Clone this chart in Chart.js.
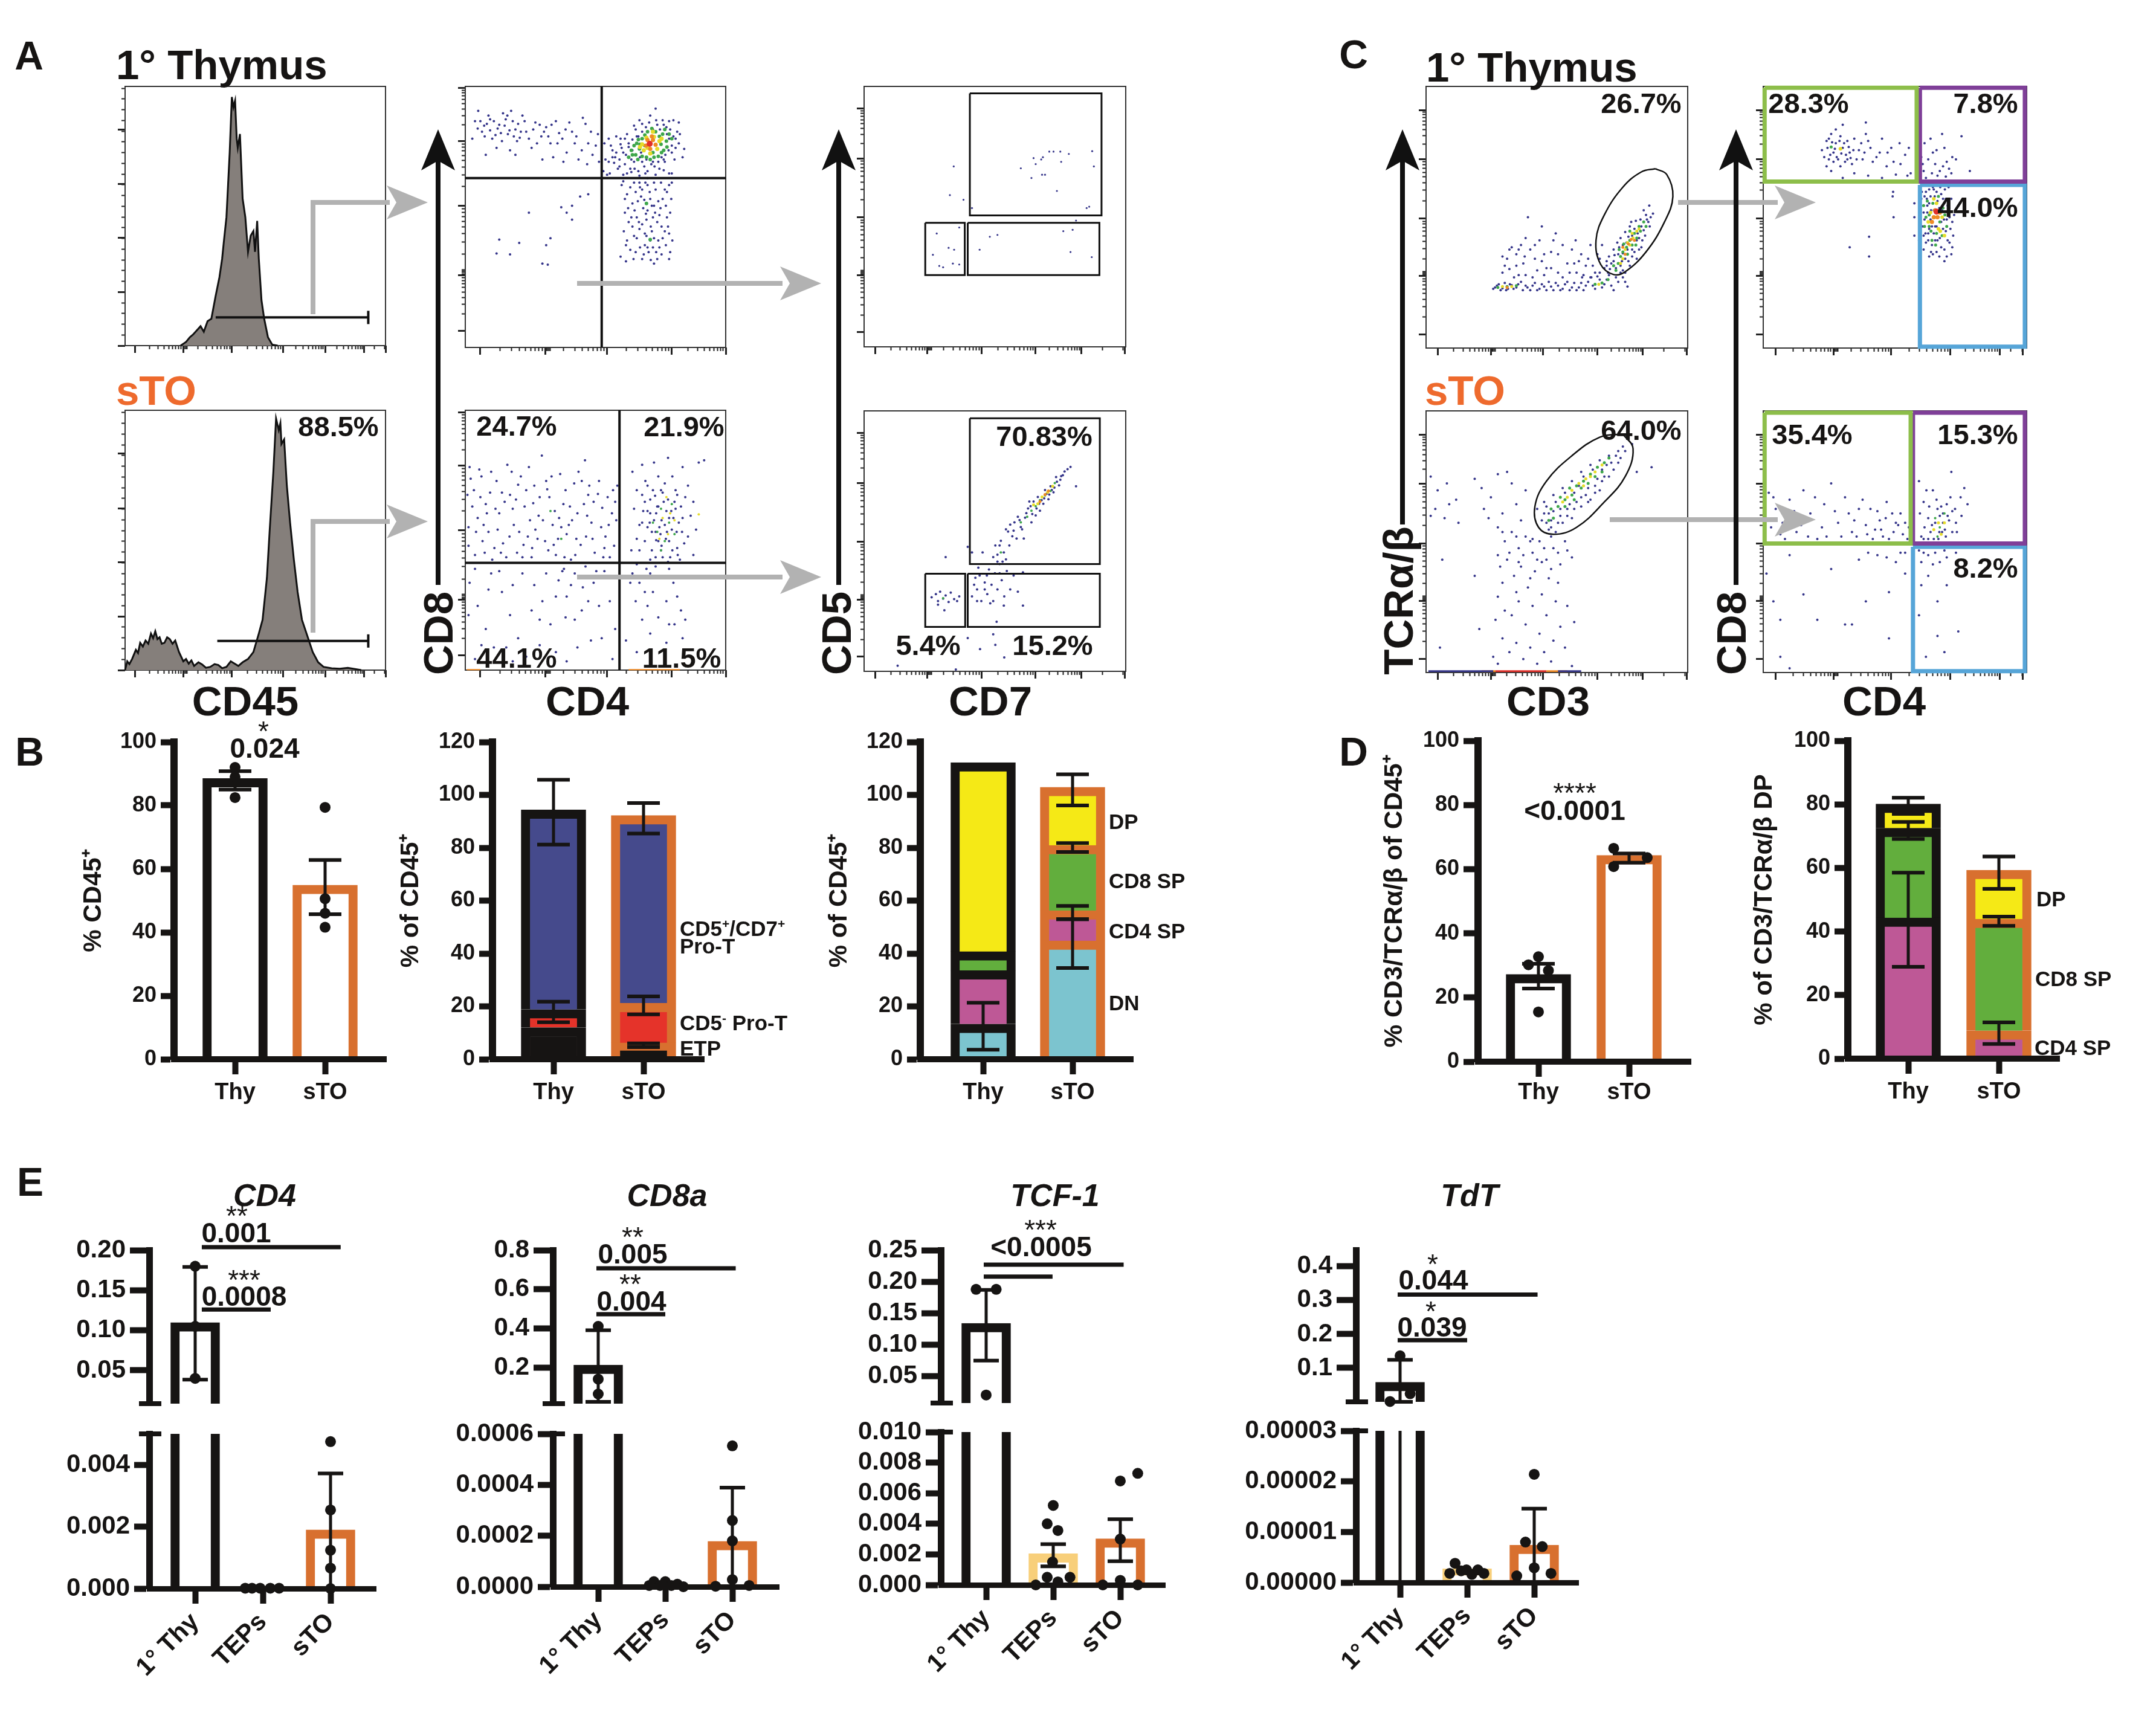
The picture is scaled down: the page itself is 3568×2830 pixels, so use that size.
<!DOCTYPE html>
<html><head><meta charset="utf-8">
<script src="https://cdn.jsdelivr.net/npm/chart.js@4"></script>
<style>
html,body{margin:0;padding:0;background:#fff;width:3568px;height:2830px;overflow:hidden}
#page{position:relative;width:3568px;height:2830px}
canvas{position:absolute}
.t{position:absolute;white-space:nowrap;font-family:"Liberation Sans",Arial,sans-serif;font-weight:bold;color:#161413;line-height:1}
sup{font-size:.6em;line-height:0}
svg{position:absolute;left:0;top:0;pointer-events:none}
</style></head><body><div id="page"></div>
<script>
// ===== colours =====
const INK='#161413',ORANGE='#D8702F',TEPCOL='#F8CF7A',BLUE='#454A8C',RED='#E5332A',YEL='#F5E916',GRN='#62AE3D',MAG='#BE5896',CYA='#7CC4CF';
const NAVY='#35358a',DG='#3da64a',DY='#e6dc2a',DO='#f08a24',DR='#e2302a';

// ===== panel B =====
const catsTS=['Thy','sTO'];
const b1Values=[88.5,54.9];
const b1Err=[[85,90.8],[45.7,62.8]];
const b1ThyDots=[92,89,82.5];
const b1StoDots=[79.4,50.6,46,41.6];
const b2Ticks=[0,20,40,60,80,100,120];
const b2ETP=[12,6.2],b2CD5neg=[6.8,15],b2ProT=[75.5,71];
const b2ThyErr=[[81.2,105.7],[14,21.8]];
const b2StoErr=[[85.4,96.9],[17,23.8],[4.6,6]];
const b3DN=[13.3,44.8],b3CD4=[20.2,11.4],b3CD8=[7.2,24.7],b3DP=[71.5,22];
const b3ThyErr=[[3.6,21.4]];
const b3StoErr=[[96,107.8],[78.4,81.8],[53,58],[34.5,53]];
// ===== panel D =====
const d1Values=[27.2,64.3];
const d1Err=[[22.8,30.5],[62,64.9]];
const d1ThyDots=[[1,32.7],[0.89,30.2],[1.11,28.4],[1,15.5]];
const d1StoDots=[[1.83,66.5],[2.2,63.6],[1.83,60.8]];
const d2CD4=[44.3,8.8],d2CD8=[28.2,35.1],d2DP=[7.6,15.4];
const d2ThyErr=[[77,82.1],[69.1,74.5],[28.9,58.5]];
const d2StoErr=[[53.4,63.6],[41.8,44.7],[4.6,11.4]];
// ===== panel E =====
const catsE=['1° Thy','TEPs','sTO'];
const cd4Hi=[0.1097],cd4Lo=[0.11,0.00001,0.0019];
const cd4HiTicks=[0.05,0.10,0.15,0.20],cd4HiLabels=['0.05','0.10','0.15','0.20'];
const cd4LoTicks=[0,0.002,0.004],cd4LoLabels=['0.000','0.002','0.004'];
const cd4HiDots=[[1,0.18],[1,0.105],[1,0.04]];
const cd4HiErr=[[0.0385,0.179]];
const cd4LoDots=[[1.74,0.00001],[1.84,0.00001],[1.96,0.00001],[2.11,0.00001],[2.24,0.00001],[3,0.00475],[3,0.00254],[3,0.00124],[3,0.00066],[3,0]];
const cd4LoErr=[[3,0,0.00372]];
const cd4Sig=[[1.098,3.15,0.2038],[1.098,2.116,0.126]];
const cd8Hi=[0.212],cd8Lo=[0.212,0.00001,0.000178];
const cd8HiTicks=[0.2,0.4,0.6,0.8],cd8HiLabels=['0.2','0.4','0.6','0.8'];
const cd8LoTicks=[0,0.0002,0.0004,0.0006],cd8LoLabels=['0.0000','0.0002','0.0004','0.0006'];
const cd8HiDots=[[1,0.41],[1,0.14],[1,0.064]];
const cd8HiErr=[[0.024,0.39]];
const cd8LoDots=[[1.76,0.000005],[1.83,0.00002],[1.92,0.000005],[2,0.00002],[2.09,0.000005],[2.18,0.00001],[2.27,0],[3,0.000553],[3,0.00026],[3,0.00018],[3,0.000028],[2.75,0.000002],[3.25,0.000005]];
const cd8LoErr=[[3,0,0.000389]];
const cd8Sig=[[0.973,3.05,0.707],[0.973,2.0,0.472]];
const tcfHi=[0.134],tcfLo=[0.134,0.00204,0.00302];
const tcfHiTicks=[0.05,0.10,0.15,0.20,0.25],tcfHiLabels=['0.05','0.10','0.15','0.20','0.25'];
const tcfLoTicks=[0,0.002,0.004,0.006,0.008,0.010],tcfLoLabels=['0.000','0.002','0.004','0.006','0.008','0.010'];
const tcfHiDots=[[0.85,0.188],[1.15,0.188],[1,0.0206]];
const tcfHiErr=[[0.075,0.187]];
const tcfLoDots=[[2,0.0052],[1.91,0.004],[2.07,0.00356],[1.99,0.0015],[1.91,0.0005],[2.25,0.0005],[1.74,0],[2.07,0.0002],[3,0.0068],[3.26,0.0073],[3,0.003],[2.74,0],[3,0.0003],[3.26,0]];
const tcfLoErr=[[2,0.00122,0.00267],[3,0.00155,0.0043]];
const tcfSig=[[0.964,3.05,0.227],[0.964,1.99,0.208]];
const tdtHi=[0.058],tdtLo=[0.058,0.0000027,0.0000074];
const tdtHiTicks=[0.1,0.2,0.3,0.4],tdtHiLabels=['0.1','0.2','0.3','0.4'];
const tdtLoTicks=[0,0.00001,0.00002,0.00003],tdtLoLabels=['0.00000','0.00001','0.00002','0.00003'];
const tdtHiDots=[[1,0.136],[1.15,0.024],[0.85,0.001]];
const tdtHiErr=[[0,0.124]];
const tdtLoDots=[[1.74,0.0000018],[1.82,0.0000038],[1.91,0.0000023],[1.99,0.0000025],[2.07,0.0000016],[2.16,0.0000025],[2.25,0.0000018],[3,0.0000214],[2.87,0.000008],[3.12,0.0000071],[3,0.0000029],[2.74,0.0000013],[3.25,0.0000018]];
const tdtLoErr=[[1,0,0.124],[3,0,0.0000146]];
const tdtSig=[[0.964,3.05,0.317],[0.964,2.0,0.182]];

// ===== flow data (channels) =====
const histThy=[335,748,345,740,352,730,358,724,365,715,372,706,378,718,385,695,392,690,400,640,407,600,412,560,415,525,420,470,423,400,426,330,430,210,433,232,436,218,439,300,441,320,445,290,450,430,455,470,460,545,465,510,470,500,473,545,477,478,480,560,485,650,490,690,497,730,505,746,515,748];
const histSto=[232,1449,236,1430,240,1436,245,1425,252,1405,256,1412,260,1390,265,1398,270,1385,275,1392,280,1370,284,1380,288,1365,292,1382,296,1378,300,1392,305,1390,310,1378,315,1382,320,1392,325,1385,332,1410,340,1430,345,1425,350,1435,355,1428,360,1440,368,1432,375,1437,382,1444,390,1442,398,1436,405,1438,412,1445,420,1442,428,1430,435,1435,442,1440,450,1432,460,1425,470,1410,480,1370,487,1340,495,1250,500,1150,507,1020,512,905,517,930,520,915,522,960,527,950,532,1050,538,1130,545,1210,552,1280,560,1340,570,1375,580,1410,590,1432,600,1442,615,1445,630,1446,645,1444,660,1447,670,1449];
const gateHistThy=[400,687,683,687],gateHistSto=[403,1386,683,1386];
const aTopNavy=[880,262,893,285,905,250,912,300,925,270,932,245,941,290,950,262,958,305,968,250,975,285,985,320,992,265,1003,295,1012,275,1020,310,1030,262,1042,300,1050,330,1060,285,1072,345,1080,255,1090,310,1098,335,1108,290,1110,350,900,335,945,325,1025,340,1065,310,897,272,915,262,928,288,937,258,955,280,963,298,947,240,908,282,886,240,1000,270,1016,295,1036,288,1085,268,
885,278,890,262,898,295,902,268,908,258,918,292,922,278,930,305,935,272,940,250,944,282,952,295,960,268,965,285,972,262,980,300,988,280,995,310,1008,285,1022,270,1033,310,1048,280,1055,265,1068,295,1078,325,1095,285,1104,315,875,300,920,320,955,335,1005,345,1044,350,1088,355,
1120,310,1128,350,1135,325,1142,295,1148,360,1155,330,1162,375,1158,300,1170,345,1178,280,1176,365,1185,260,1190,350,1196,375,1215,235,1222,365,1232,350,1240,375,1245,330,1252,300,1258,265,1265,340,1248,260,1235,275,1125,378,1140,340,1150,312,1165,318,1172,302,1183,295,1188,330,1198,345,1210,350,1218,270,1228,260,1240,300,1250,345,1230,345,1128,300,
1135,340,1142,330,1148,345,1152,320,1158,355,1160,335,1165,310,1168,365,1172,325,1175,350,1180,295,1183,370,1186,340,1190,285,1194,360,1197,275,1200,370,1203,265,1207,355,1210,280,1213,360,1216,260,1220,350,1223,280,1226,340,1230,270,1233,335,1236,290,1239,325,1242,280,1245,315,1248,295,1252,320,1255,285,1258,310,1145,365,1155,378,1170,372,1185,380,1200,385,1215,378,1230,368,1245,375,1138,352,1132,315,1150,300,1162,290,1175,272,1190,268,1205,250,1240,262,1260,290,1268,322,1122,345,1118,370,1130,375,
1155,392,1162,420,1150,555,1158,460,1168,405,1172,440,1165,480,1175,510,1160,530,1178,545,1185,395,1188,425,1180,470,1192,450,1185,495,1195,530,1190,560,1200,400,1205,430,1198,475,1208,500,1202,545,1212,570,1215,410,1212,445,1218,480,1220,520,1210,535,1225,395,1228,430,1222,465,1232,500,1226,550,1240,560,1236,415,1242,460,1245,395,1238,490,1246,520,1200,455,1210,470,1195,505,1205,520,
1152,400,1158,430,1164,450,1170,470,1156,500,1162,520,1168,540,1160,565,1175,395,1178,415,1182,435,1176,455,1184,480,1172,490,1180,515,1186,535,1174,560,1190,410,1194,432,1197,462,1190,485,1198,510,1200,535,1193,550,1204,415,1208,445,1214,460,1206,490,1212,515,1216,545,1206,562,1220,435,1224,450,1226,490,1228,515,1222,535,1218,560,1232,410,1234,445,1236,470,1240,505,1234,530,1242,545,1244,430,1186,405,1196,395,1212,395,1240,400,
980,460,1050,460,1060,445,1090,420,925,518,962,525,1020,515,1012,530,1005,570,1015,572,945,550,920,548,1075,425,1060,475,1040,448];
const aTopGreen=[1170,325,1180,310,1190,300,1200,285,1215,285,1228,290,1235,305,1230,325,1220,338,1205,345,1190,338,1178,335,1165,340,1240,290,1185,322,1210,330,1225,312,1195,315,1205,518,1198,440,1175,315,1183,302,1195,292,1208,278,1222,295,1236,318,1226,330,1212,340,1198,340,1182,345,1172,335,1186,312,1232,280,1245,300];
const aTopYellow=[1190,312,1198,298,1212,296,1222,305,1218,322,1205,332,1193,325,1186,318,1200,320,1226,300,1210,285];
const aTopOrange=[1200,303,1210,303,1215,313,1205,322,1197,315,1208,295];
const aTopRed=[1204,311];
const aBotNavy=[870,1010,878,1060,885,1120,868,1180,892,1030,900,1090,905,1150,912,1210,880,1200,920,1040,925,1110,932,1175,940,1005,945,1070,952,1135,958,1195,965,1030,972,1095,978,1160,985,1205,990,1050,998,1115,1004,985,1010,1170,1018,1075,1024,1135,1030,1200,1038,1025,1044,1090,1050,1155,1058,1210,1064,1045,1070,1110,1076,1178,1084,995,1090,1070,1096,1130,1102,1195,1110,1040,1116,1098,1122,1160,1130,1205,1136,1060,1142,1125,875,1095,888,1015,896,1135,908,1065,916,1185,935,1085,948,1020,962,1150,975,1060,982,1125,1000,1075,1012,1040,1028,1105,1034,1165,1048,1060,1060,1125,1072,1020,1086,1160,1100,1085,1118,1205,1128,1135,1140,1085,868,1140,894,1170,918,1100,944,1160,968,1205,992,1145,1016,1190,1040,1140,1066,1200,1092,1050,1114,1140,1138,1180,
872,1035,882,1150,890,1075,898,1195,910,1020,922,1145,930,1065,938,1205,950,1100,960,1048,970,1178,980,1010,988,1088,996,1165,1006,1125,1014,1058,1026,1178,1036,1120,1046,1205,1056,1095,1068,1165,1078,1040,1088,1115,1098,1165,1108,1068,1120,1185,1134,1110,1144,1050,866,1070,902,1110,928,1195,956,1080,986,1185,1022,1030,1054,1135,1082,1090,1126,1075,
870,1260,885,1310,900,1360,915,1400,930,1280,945,1330,960,1380,975,1420,990,1265,1005,1300,1020,1350,1035,1255,1050,1290,1065,1340,1080,1270,1095,1385,1110,1310,1125,1250,1140,1360,880,1230,905,1275,925,1235,950,1265,985,1320,1012,1240,1042,1235,1058,1265,1072,1250,1090,1300,1105,1235,1130,1300,868,1330,892,1395,938,1400,1000,1395,1030,1410,1070,1400,1115,1380,1135,1425,880,1425,950,1430,1050,1430,910,1240,968,1240,1030,1290,1045,1230,1065,1240,1085,1225,1100,1260,1120,1235,1078,1320,1048,1335,1000,1340,
1172,1020,1180,1060,1190,1005,1196,1040,1205,1080,1212,1000,1220,1030,1228,1065,1238,990,1246,1030,1255,1070,1265,1010,1275,1050,1285,1085,1295,1000,1305,995,1175,1100,1185,1135,1195,1170,1205,1110,1215,1150,1225,1190,1235,1105,1245,1145,1255,1185,1265,1120,1275,1160,1285,1200,1170,1190,1180,1220,1192,1105,1200,1140,1208,1190,1218,1095,1226,1125,1234,1165,1242,1205,1250,1085,1258,1130,1268,1175,1190,1070,1210,1060,1232,1045,1252,1100,1180,1165,1220,1170,1240,1120,1222,1140,1212,1125,1228,1205,
1200,1105,1204,1130,1208,1150,1214,1072,1216,1110,1216,1168,1220,1095,1224,1155,1226,1180,1230,1085,1232,1135,1236,1150,1238,1080,1240,1170,1244,1105,1246,1190,1248,1120,1252,1060,1254,1150,1256,1200,1262,1095,1264,1150,1270,1075,1190,1130,1195,1085,1185,1190,1205,1210,1215,1205,1225,1060,1280,1115,1290,1145,1200,1050,1238,1215,1260,1210,
1172,1240,1185,1260,1198,1230,1210,1280,1222,1245,1235,1300,1248,1260,1262,1320,1178,1300,1190,1340,1205,1370,1220,1335,1235,1390,1250,1350,1265,1380,1195,1280,1240,1350,1160,1385,1180,1410,1205,1240,1215,1225,1230,1250,1240,1230,1255,1290,1270,1340,1168,1260,1200,1310];
const aBotGreen=[1225,1100,1240,1130,1218,1150,1232,1170,1225,1190,1245,1090,1250,1155,1210,1130,1040,1165,1020,1105];
const aBotYellow=[1235,1075,1228,1120,1242,1110,1222,1165,1238,1155,1250,1125,1295,1112];
const aStripOrange=[865,1448,890,1448,1165,1448,1260,1448];
const cd7TopNavy=[397,360,388,422,420,432,440,450,555,364,585,342,590,355,603,345,607,340,580,385,605,378,612,378,622,328,632,328,648,328,668,333,650,350,640,413,723,327,727,360,710,450,716,447,357,505,410,492,348,551,385,536,398,540,363,575,372,578,395,570,410,572,458,540,482,512,500,508,655,500,677,497,672,545,722,556,685,477];
const cd7BotNavy=[440,1290,445,1265,452,1275,458,1245,462,1300,470,1260,476,1285,480,1232,486,1265,490,1300,494,1240,500,1275,505,1220,510,1255,516,1290,522,1235,530,1275,538,1245,548,1280,560,1238,560,1310,515,1310,498,1345,490,1372,495,1395,516,1422,402,1448,265,1440,459,1404,430,1380,500,1200,495,1180,508,1170,515,1195,525,1150,528,1180,520,1145,535,1160,540,1130,545,1165,552,1125,558,1145,565,1120,572,1100,562,1165,580,1130,575,1085,590,1115,585,1085,600,1105,595,1075,608,1090,612,1060,620,1080,625,1052,632,1065,638,1032,645,1050,650,1030,658,1020,665,1015,672,1010,685,1052,440,1195,465,1195,430,1183,378,1205,
530,1135,538,1148,548,1118,555,1140,568,1110,578,1095,582,1112,592,1100,598,1090,604,1082,610,1078,616,1068,622,1070,628,1060,634,1055,640,1042,648,1038,654,1028,505,1180,500,1215,490,1205,512,1215,520,1210,452,1300,448,1250,470,1275,483,1305,505,1240,455,1228,475,1245,
345,1292,355,1285,360,1300,365,1280,372,1295,378,1288,385,1302,390,1282,398,1296,405,1300,410,1290,375,1320,360,1308];
const cd7BotGreen=[372,1294,508,1195,555,1130,590,1095,600,1082,612,1072,625,1062,635,1045,580,1105,570,1118];
const cd7BotYellow=[585,1092,595,1090,605,1075,618,1065,630,1052];
const cd7BotOrange=[612,1070,620,1062,600,1085];
const cd3TopNavy=[420,625,428,618,436,628,445,612,452,625,460,617,470,622,480,610,490,618,500,628,510,612,520,625,530,620,540,610,550,628,560,618,570,625,580,610,590,622,600,628,610,612,620,618,630,600,640,625,650,605,660,615,670,595,680,628,690,610,700,600,710,620,
424,622,432,615,440,624,448,628,456,615,464,625,474,615,484,628,494,622,505,618,515,628,525,615,535,628,545,620,555,612,565,628,575,615,585,628,595,612,605,622,615,628,625,610,635,618,645,598,655,622,665,605,675,618,685,600,695,590,705,610,
440,590,450,560,460,535,470,575,480,530,490,595,495,470,510,560,525,490,520,520,535,580,545,545,555,505,560,590,570,530,580,570,590,540,600,590,610,550,620,575,630,530,640,590,650,560,655,530,445,575,465,600,485,570,505,600,530,550,560,550,585,590,440,555,470,550,625,560,660,580,
455,582,475,540,488,555,500,540,515,585,530,595,545,580,570,600,595,570,605,565,615,595,635,575,645,550,455,540,475,595,490,515,510,530,525,565,550,520,598,520,612,600,632,600,650,590,665,565,
690,570,700,585,680,565,690,550,705,560,715,575,700,530,710,540,695,515,720,510,730,520,715,490,740,490,750,465,745,455,755,480,760,470,735,515,725,545,670,555,680,540,665,575,740,535,765,462,705,590,730,560,
685,580,695,575,672,582,682,552,692,535,700,548,708,525,712,512,720,540,725,495,732,505,738,475,745,498,752,475,758,490,748,510,735,540,720,555,712,565,698,565,675,570,668,590,688,525,705,502,718,480,728,478,742,520,757,445];
const cd3TopGreen=[430,622,450,620,470,618,640,615,655,612,668,605,690,570,700,545,708,535,715,520,725,505,735,490,745,480,695,555,720,530,730,515,710,550,685,585,692,540,702,528,715,500,728,530,738,500,750,490,680,575];
const cd3TopYellow=[440,620,460,620,705,540,715,530,722,515,700,560,730,500,648,615,695,570,710,525,720,505,735,495];
const cd3TopOrange=[450,622,712,528,718,518,705,550,700,535,725,520];
const cd3BotNavy=[285,1030,300,1060,320,1045,295,1100,315,1120,340,1080,285,1115,325,1090,380,1035,395,1055,400,1100,415,1075,430,1025,450,1020,440,1110,460,1045,470,1090,480,1125,490,1060,410,1120,345,1130,
530,1085,540,1110,550,1070,560,1130,570,1055,580,1100,590,1040,600,1085,610,1020,620,1070,630,1005,640,1050,650,995,660,1030,670,985,680,1015,690,975,700,965,525,1125,540,1145,555,1150,570,1130,590,1120,610,1095,630,1080,515,1100,650,1060,720,960,762,1010,730,1020,
535,1095,545,1125,555,1085,565,1115,575,1065,585,1090,595,1065,605,1050,615,1030,625,1055,635,1015,645,1035,655,1015,665,1005,675,1000,685,985,695,990,535,1130,550,1105,565,1100,580,1115,595,1100,610,1075,625,1085,640,1065,655,1040,670,1030,545,1140,530,1110,690,1000,705,975,
430,1140,445,1170,460,1150,475,1185,490,1160,505,1195,520,1170,535,1210,550,1185,565,1220,580,1190,590,1205,450,1210,465,1245,480,1225,495,1270,510,1235,525,1285,540,1250,555,1300,430,1200,440,1260,430,1290,445,1320,425,1340,460,1330,475,1300,490,1350,505,1310,520,1370,535,1330,550,1385,565,1355,440,1380,455,1410,470,1390,485,1425,500,1400,515,1435,530,1410,545,1430,420,1420,430,1435,575,1400,590,1440,580,1310,595,1345,310,1210,380,1245,305,1400,390,1360,
440,1150,455,1195,470,1160,485,1200,500,1170,515,1210,530,1185,545,1160,560,1195,575,1170,435,1225,475,1215,505,1165,525,1215,545,1230,560,1260,500,1250,470,1280];
const cd3BotGreen=[545,1100,560,1095,575,1080,590,1070,600,1050,615,1040,630,1025,645,1010,660,1000,670,990,565,1075,585,1055,610,1055,625,1045,550,1120,540,1125,575,1095,595,1080,640,1030,655,1020];
const cd3BotYellow=[570,1085,590,1060,605,1045,620,1035,640,1020,655,1005,580,1075,615,1050,630,1030];
const cd3StripNavy=[280,1451,420,1451,560,1451,610,1451];
const cd3StripOrange=[395,1451,425,1451,535,1451,580,1451];
const cd3StripRed=[425,1451,535,1451];
const cd4cTopNavy=[1130,325,1140,305,1145,345,1150,290,1155,330,1160,310,1165,345,1170,295,1175,320,1180,350,1185,305,1190,330,1195,355,1200,300,1210,325,1218,345,1225,290,1235,320,1248,340,1260,300,1272,330,1285,350,1298,310,1310,335,1322,375,1150,370,1175,385,1200,375,1230,380,1260,385,1290,378,1315,380,1175,270,1225,265,1140,360,1160,280,1240,350,1270,360,
1142,320,1148,335,1152,308,1158,322,1162,340,1168,305,1172,332,1178,310,1182,335,1188,318,1192,342,1198,325,1205,345,1215,310,1222,330,1145,300,1135,340,1155,350,1170,360,1185,345,1230,305,1255,330,1280,320,1300,355,1318,320,
1345,340,1350,370,1355,385,1365,300,1370,330,1375,355,1380,380,1390,290,1395,320,1400,350,1410,375,1420,345,1432,295,1405,365,1385,370,1352,310,1450,370,1342,385,1360,345,1368,375,1378,325,1392,360,1398,382,1412,340,1348,355,
1345,430,1350,460,1348,490,1355,415,1358,445,1360,505,1365,425,1365,475,1368,530,1372,410,1372,455,1375,490,1378,545,1380,435,1382,470,1385,515,1388,420,1390,455,1392,495,1395,540,1398,430,1400,475,1402,520,1405,450,1408,495,1410,550,1350,540,1375,520,1362,555,1395,565,1412,535,1416,465,1340,520,
1346,415,1352,425,1352,475,1354,505,1357,430,1358,460,1362,410,1362,440,1362,495,1366,455,1368,490,1370,405,1372,505,1374,425,1375,470,1378,415,1378,490,1380,520,1384,450,1386,405,1388,480,1388,535,1392,430,1394,475,1396,410,1398,500,1402,445,1404,405,1406,470,1406,525,1410,430,1412,480,1414,510,1350,510,1355,525,1360,520,1366,545,1370,550,1384,555,1400,555,
1283,425,1284,415,1330,470,1330,510,1285,470,1190,535,1232,512,1232,555,1330,440];
const cd4cTopGreen=[1355,470,1362,490,1370,440,1378,505,1385,480,1392,450,1400,490,1368,520,1150,318,1350,445,1358,435,1366,500,1374,455,1382,425,1390,510,1396,465,1404,440,1362,465,1376,530,1352,490];
const cd4cTopYellow=[1365,460,1382,495,1390,470,1372,430,1395,510,1360,480,1378,440,1386,500,1170,322];
const cd4cTopOrange=[1375,455,1380,470,1368,480,1385,460,1372,470];
const cd4cTopRed=[1378,458];
const cd4cBotNavy=[1015,1065,1030,1100,1045,1130,1060,1080,1075,1150,1090,1060,1105,1110,1120,1165,1135,1090,1150,1045,1165,1130,1180,1075,1195,1150,1210,1100,1225,1135,1240,1165,1255,1125,1270,1085,1285,1150,1300,1110,1315,1165,1020,1140,1050,1165,1100,1160,1140,1160,1200,1125,1235,1100,1245,1145,1262,1160,1290,1130,1310,1130,
1025,1075,1040,1155,1070,1105,1085,1135,1115,1075,1130,1140,1158,1105,1172,1160,1188,1110,1205,1160,1218,1080,1228,1155,1250,1105,1258,1145,1268,1120,1275,1165,1282,1110,1295,1135,1305,1155,1318,1140,
1340,1040,1350,1085,1360,1120,1370,1060,1380,1100,1390,1150,1400,1090,1410,1020,1420,1130,1430,1075,1445,1090,1345,1160,1365,1150,1375,1130,1385,1115,1392,1130,1398,1160,1405,1125,1412,1150,1418,1100,
1342,1110,1352,1140,1356,1060,1362,1095,1368,1135,1372,1165,1378,1080,1384,1150,1388,1095,1392,1110,1396,1145,1402,1115,1408,1075,1412,1105,1422,1150,1432,1115,1438,1055,1350,1165,1360,1165,1382,1165,
1010,1240,1025,1300,1040,1340,1060,1200,1090,1285,1120,1340,1150,1230,1180,1350,1210,1210,1225,1300,1250,1200,1275,1280,1290,1215,1310,1195,1310,1240,1275,1380,1040,1420,1060,1445,1195,1350,1350,1195,1360,1245,1370,1220,1380,1300,1395,1190,1400,1265,1340,1330,1355,1420,1380,1375,1395,1410,1345,1265,1420,1220,1425,1365,1230,1195,1270,1205,1300,1195,1340,1190,1345,1215,1360,1200,1375,1195,1385,1215,1400,1205,1420,1195];
const cd4cBotGreen=[1375,1120,1385,1140,1395,1110,1380,1160];
const cd4cBotYellow=[1382,1130,1395,1130,1372,1145,1388,1155];
// ===== gates =====
const quadTopV=[1115,187,1115,751],quadTopH=[862,385,1345,385];
const quadBotV=[1148,887,1148,1449],quadBotH=[862,1217,1345,1217];
const gT1=[435,202,745,202,745,466,435,466,435,202],gT2=[330,482,423,482,423,595,330,595,330,482],gT3=[430,482,740,482,740,595,430,595,430,482];
const gB1=[435,905,741,905,741,1220,435,1220,435,905],gB2=[330,1241,424,1241,424,1356,330,1356,330,1241],gB3=[430,1241,741,1241,741,1356,430,1356,430,1241];
const ell1=[770,365,795,378,808,425,790,480,750,545,705,588,680,594,652,572,642,520,660,465,700,405,740,372,770,365];
const ell2=[700,938,722,970,705,1030,660,1085,600,1140,550,1155,518,1140,510,1095,535,1040,590,985,650,945,700,938];
const cTopG=[1006,190,1335,190,1335,393,1006,393,1006,190],cTopP=[1342,190,1569,190,1569,393,1342,393,1342,190],cTopB=[1342,400,1569,400,1569,750,1342,750,1342,400];
const cBotG=[1006,892,1322,892,1322,1175,1006,1175,1006,892],cBotP=[1327,892,1569,892,1569,1175,1327,1175,1327,892],cBotB=[1327,1182,1569,1182,1569,1451,1327,1451,1327,1182];
// tick anchors of the flow axes, as read
const histXMaj=[250,340,430,525,603,675,715],histYMaj=[748,632,515,398,280];
const a2XMaj=[890,1010,1125,1245,1345],a2YTop=[715,595,445,305,190],a2YBot=[1417,1297,1147,1007,892];
const a3XMaj=[213,335,463,590,698,800],a3YTop=[718,595,470,343,235],a3YBot=[1420,1297,1172,1045,937];
const c1XMaj=[300,415,528,645,743,838],c1YTop=[723,597,473,344,238],c1YBot=[1425,1299,1175,1046,940];
const c2XMaj=[1030,1155,1280,1408,1515,1565];

// ===== helpers =====
const page=document.getElementById('page');
const FONT='"Liberation Sans", Arial, sans-serif';
const pairs=a=>{const o=[];for(let i=0;i+1<a.length;i+=2)o.push({x:a[i],y:a[i+1]});return o;};
function biex(m){const o=[];for(let i=0;i+1<m.length;i++){const span=m[i+1]-m[i];const N=(i==m.length-2&&m.length>5)?[3,9]:[2,3,4,5,6,7,8,9];for(const k of N)o.push(m[i]+span*Math.log10(k));}
  const d=(m[2]-m[1])*0.02;for(let j=1;j<5;j++)o.push(m[1]+d*j);return o;}
function linMinor(m,end){const st=(m[1]-m[0])/5;const o=[];for(let v=m[0];(st>0?v<end:v>end);v+=st)o.push(v);return o;}
function addCanvas(l,t,w,h){const c=document.createElement('canvas');c.width=w;c.height=h;c.style.left=l+'px';c.style.top=t+'px';c.style.width=w+'px';c.style.height=h+'px';page.appendChild(c);return c;}
const zero=s=>{s.paddingLeft=s.paddingRight=s.paddingTop=s.paddingBottom=0;};

// --- flow plot ---
const frame={id:'frame',beforeDatasetsDraw(c){const a=c.chartArea,x=c.ctx;x.save();x.strokeStyle='#333';x.lineWidth=2;x.strokeRect(a.left,a.top,a.right-a.left,a.bottom-a.top);x.restore();}};
function flowScale(axis,min,max,vals,len,w,rev){return {type:'linear',axis,min,max,reverse:!!rev,display:true,
  border:{display:false},grid:{drawOnChartArea:false,drawTicks:true,tickLength:len,tickWidth:w,tickColor:'#222'},
  ticks:{display:false,autoSkip:false},
  afterBuildTicks(s){s.ticks=vals.map(v=>({value:v}));},
  afterFit(s){if(axis=='x')s.height=0;else s.width=0;zero(s);}};}
function flow(fr,xz,yz,xMaj,yMaj,yMinor,ds){
  const l=Math.round(fr.ox+xz[0]*fr.sx),r=Math.round(fr.ox+xz[1]*fr.sx),t=Math.round(yz[0]*fr.sy),b=Math.round(yz[1]*fr.sy);
  const m=20;const c=addCanvas(l-m,t-m,r-l+2*m,b-t+2*m);
  new Chart(c,{type:'scatter',data:{datasets:ds},plugins:[frame],options:{responsive:false,animation:false,devicePixelRatio:1,
    layout:{padding:m},plugins:{legend:{display:false},tooltip:{enabled:false}},
    scales:{x:flowScale('x',xz[0],xz[1],biex(xMaj),6,2),xM:flowScale('x',xz[0],xz[1],xMaj,12,3),
            y:flowScale('y',yz[0],yz[1],yMinor,6,2,true),yM:flowScale('y',yz[0],yz[1],yMaj,12,3,true)}}});
}
const cloud=(a,col,r=2)=>({data:pairs(a),pointRadius:r,pointBackgroundColor:col,pointBorderWidth:0,showLine:false,clip:false});
const gate=(a,col,w=3,tension=0)=>({data:pairs(a),showLine:true,borderColor:col,borderWidth:w,pointRadius:0,tension,clip:false,order:-1,fill:false,borderJoinStyle:'miter'});
const histo=(a,base)=>({data:pairs(a),showLine:true,borderColor:'#111',borderWidth:3,backgroundColor:'#857F7B',fill:{value:base},pointRadius:0,clip:false});
const capped=(a)=>({data:pairs(a),showLine:true,borderColor:'#111',borderWidth:4,pointStyle:'line',pointRotation:90,pointRadius:[0,11],pointBorderColor:'#111',pointBorderWidth:4,clip:false,order:-1});

// --- bar plot ---
function errDs(x,lo,hi,capR,ymin,ymax,sw=5){return {type:'line',data:[{x,y:lo},{x,y:hi}],borderColor:INK,borderWidth:sw,pointStyle:'line',pointRadius:capR,pointBorderColor:INK,pointBorderWidth:6,order:2,
   clip:(lo<ymin||hi>ymax)?undefined:false};}
function dotDs(pts,r=9){return {type:'scatter',data:pts.map(p=>({x:p[0],y:p[1]})),pointRadius:r,pointBackgroundColor:INK,pointBorderWidth:0,order:1,clip:false};}
function lineDs(x1,x2,y,w){return {type:'line',data:[{x:x1,y},{x:x2,y}],borderColor:INK,borderWidth:w,pointRadius:0,order:1,clip:false};}
function plot(o){
  const [left,top,right,bottom]=o.rect;
  const unit=o.ticksPx[1]-o.ticksPx[0];
  const xmin=1-(o.ticksPx[0]-left)/unit,xmax=1+(right-o.ticksPx[0])/unit;
  const mL=o.mL,mT=o.mT||120,mR=o.mR||70,mB=o.mB;
  const c=addCanvas(left-mL,top-mT,right-left+mL+mR,bottom-top+mT+mB);
  const xVals=o.cats.map((_,i)=>i+1);
  const ds=o.makeDs({xmin,xmax,unit});
  new Chart(c,{type:'bar',data:{datasets:ds},options:{responsive:false,animation:false,devicePixelRatio:1,
    layout:{padding:{left:0,top:mT,right:mR,bottom:0}},plugins:{legend:{display:false},tooltip:{enabled:false}},
    scales:{
     x:{type:'linear',min:xmin,max:xmax,offset:false,display:true,
        border:{display:!o.noX,color:INK,width:o.xAxisW||10,z:1},
        grid:{display:!o.noX,drawOnChartArea:false,offset:false,tickLength:25,tickWidth:10,tickColor:INK},
        ticks:{display:!o.noX,autoSkip:false,color:INK,padding:o.xPad!==undefined?o.xPad:(o.rot?6:8),font:{family:FONT,weight:'bold',size:o.xFont||38},minRotation:o.rot||0,maxRotation:o.rot||0,callback:(v)=>o.cats[v-1]},
        afterBuildTicks(s){s.ticks=xVals.map(v=>({value:v}));},
        afterFit(s){s.height=mB;zero(s);}},
     y:{type:'linear',min:o.yMin,max:o.yMax,
        border:{color:INK,width:o.yAxisW||12},
        grid:{drawOnChartArea:false,tickLength:o.yTl||22,tickWidth:10,tickColor:INK},
        ticks:{autoSkip:false,color:INK,padding:o.yPad||7,font:{family:FONT,weight:'bold',size:o.yFont||36},callback:(v,i)=>o.yLabels?o.yLabels[i]:String(v)},
        title:o.title?{display:true,text:o.title,color:INK,padding:0,font:{family:FONT,weight:'bold',size:o.titleSize||42}}:{display:false},
        afterBuildTicks(s){s.ticks=o.yTicks.map(v=>({value:v}));},
        afterFit(s){s.width=mL;zero(s);}}
    }}});
}
function bar1(vals,cols,w,extra){return Object.assign({type:'bar',data:vals.map((v,i)=>({x:i+1,y:v})),backgroundColor:'#fff',borderColor:cols,
   borderWidth:{top:15,left:15,right:15,bottom:0},borderSkipped:false,barThickness:w,order:3},extra||{});}
function seg(vals,col,w,bColor){return {type:'bar',stack:'s',data:vals.map((v,i)=>({x:i+1,y:v})),backgroundColor:col,borderColor:bColor,
   borderWidth:{top:15,left:15,right:15,bottom:0},borderSkipped:false,barThickness:w,order:3};}
const errs=(x,list,capR,a,b)=>list.map(e=>errDs(x,e[0],e[1],capR,a,b));
const txt=(s,x,y,size,opt={})=>{const d=document.createElement('div');d.className='t';d.innerHTML=s;d.style.fontSize=size+'px';d.style.left=x+'px';d.style.top=y+'px';
  const ax=opt.anchor=='left'?'0':'-50%';d.style.transform=`translate(${ax},-50%)`+(opt.rot?` rotate(${opt.rot}deg)`:'');
  if(opt.color)d.style.color=opt.color;if(opt.italic)d.style.fontStyle='italic';if(opt.weight)d.style.fontWeight=opt.weight;page.appendChild(d);};

// ===== build flow plots =====
const fA={ox:0,sx:1400/1568,sy:1200/1568},fB={ox:1300,sx:1100/1568,sy:1200/1568},fC={ox:2150,sx:1200/1568,sy:1200/1568};
flow(fA,[232,715],[187,748],histXMaj,histYMaj,linMinor(histYMaj,187),[histo(histThy,748),capped(gateHistThy)]);
flow(fA,[232,715],[887,1449],histXMaj,histYMaj.map(v=>v+701),linMinor(histYMaj.map(v=>v+701),887),[histo(histSto,1449),capped(gateHistSto)]);
flow(fA,[862,1345],[187,751],a2XMaj,a2YTop,biex(a2YTop),[cloud(aTopRed,DR,5),cloud(aTopOrange,DO,3.5),cloud(aTopYellow,DY,3.5),cloud(aTopGreen,DG,3),cloud(aTopNavy,NAVY),gate(quadTopV,'#111',4),gate(quadTopH,'#111',4)]);
flow(fA,[862,1345],[887,1449],a2XMaj,a2YBot,biex(a2YBot),[cloud(aBotYellow,DY,2),cloud(aBotGreen,DG,2),cloud(aBotNavy,NAVY),gate(aStripOrange.slice(0,4),DO,2),gate(aStripOrange.slice(4),DO,2),gate(quadBotV,'#111',4),gate(quadBotH,'#111',4)]);
flow(fB,[186,802],[187,750],a3XMaj,a3YTop,biex(a3YTop),[cloud(cd7TopNavy,NAVY,1.6),gate(gT1,'#111',3),gate(gT2,'#111',3),gate(gT3,'#111',3)]);
flow(fB,[186,802],[889,1452],a3XMaj,a3YBot,biex(a3YBot),[cloud(cd7BotOrange,DO,2.5),cloud(cd7BotYellow,DY,2.5),cloud(cd7BotGreen,DG,2),cloud(cd7BotNavy,NAVY),gate(gB1,'#111',3),gate(gB2,'#111',3),gate(gB3,'#111',3)]);
flow(fC,[275,840],[187,753],c1XMaj,c1YTop,biex(c1YTop),[cloud(cd3TopOrange,DO,2.5),cloud(cd3TopYellow,DY,2.5),cloud(cd3TopGreen,DG,2.5),cloud(cd3TopNavy,NAVY),gate(ell1,'#111',2.5,0.4)]);
flow(fC,[275,840],[888,1454],c1XMaj,c1YBot,biex(c1YBot),[cloud(cd3BotYellow,DY,2.5),cloud(cd3BotGreen,DG,2.5),cloud(cd3BotNavy,NAVY),gate(cd3StripNavy.slice(0,4),NAVY,3),gate(cd3StripNavy.slice(4),NAVY,3),gate(cd3StripOrange.slice(0,4),DO,3),gate(cd3StripOrange.slice(4),DO,3),gate(cd3StripRed,DR,3),gate(ell2,'#111',2.5,0.4)]);
flow(fC,[1003,1573],[187,753],c2XMaj,c1YTop,biex(c1YTop),[cloud(cd4cTopRed,DR,5),cloud(cd4cTopOrange,DO,3.5),cloud(cd4cTopYellow,DY,3),cloud(cd4cTopGreen,DG,2.5),cloud(cd4cTopNavy,NAVY),gate(cTopG,'#8DBE4A',7),gate(cTopP,'#7F3F98',7),gate(cTopB,'#56A5D8',7)]);
flow(fC,[1003,1573],[888,1454],c2XMaj,c1YBot,biex(c1YBot),[cloud(cd4cBotYellow,DY,2.5),cloud(cd4cBotGreen,DG,2),cloud(cd4cBotNavy,NAVY),gate(cBotG,'#8DBE4A',7),gate(cBotP,'#7F3F98',7),gate(cBotB,'#56A5D8',7)]);

// ===== build bar plots B, D =====
plot({rect:[288,1228,639,1753],ticksPx:[389,538],cats:catsTS,yMin:0,yMax:100,yTicks:[0,20,40,60,80,100],mL:288-130,mB:90,title:'% CD45⁺',
  makeDs:()=>[bar1(b1Values,[INK,ORANGE],107),errDs(1,b1Err[0][0],b1Err[0][1],27,0,100),errDs(2,b1Err[1][0],b1Err[1][1],27,0,100),
    dotDs(b1ThyDots.map(v=>[1,v])),dotDs(b1StoDots.map(v=>[2,v]))]});
plot({rect:[815,1228,1165,1753],ticksPx:[916,1065],cats:catsTS,yMin:0,yMax:120,yTicks:b2Ticks,mL:815-655,mB:90,title:'% of CD45⁺',
  makeDs:()=>[seg(b2ETP,INK,107,[INK,ORANGE]),seg(b2CD5neg,RED,107,[INK,ORANGE]),seg(b2ProT,BLUE,107,[INK,ORANGE]),...errs(1,b2ThyErr,27,0,120),...errs(2,b2StoErr,27,0,120)]});
plot({rect:[1523,1228,1875,1753],ticksPx:[1627,1775],cats:catsTS,yMin:0,yMax:120,yTicks:b2Ticks,mL:1523-1364,mB:90,title:'% of CD45⁺',
  makeDs:()=>[seg(b3DN,CYA,107,[INK,ORANGE]),seg(b3CD4,MAG,107,[INK,ORANGE]),seg(b3CD8,GRN,107,[INK,ORANGE]),seg(b3DP,YEL,107,[INK,ORANGE]),...errs(1,b3ThyErr,27,0,120),...errs(2,b3StoErr,27,0,120)]});
plot({rect:[2446,1226,2798,1757],ticksPx:[2546,2696],cats:catsTS,yMin:0,yMax:100,yTicks:[0,20,40,60,80,100],mL:2446-2283,mB:90,yTl:24,xPad:4,title:'% CD3/TCRα/β of CD45⁺',titleSize:42.5,
  makeDs:()=>[bar1(d1Values,[INK,ORANGE],107),errDs(1,d1Err[0][0],d1Err[0][1],27,0,100),errDs(2,d1Err[1][0],d1Err[1][1],27,0,100),dotDs(d1ThyDots),dotDs(d1StoDots)]});
plot({rect:[3058,1226,3408,1752],ticksPx:[3158,3308],cats:catsTS,yMin:0,yMax:100,yTicks:[0,20,40,60,80,100],mL:3058-2895,mB:90,title:'% of CD3/TCRα/β DP',titleSize:42,
  makeDs:()=>[seg(d2CD4,MAG,107,[INK,ORANGE]),seg(d2CD8,GRN,107,[INK,ORANGE]),seg(d2DP,YEL,107,[INK,ORANGE]),...errs(1,d2ThyErr,27,0,100),...errs(2,d2StoErr,27,0,100)]});

// ===== build panel E =====
function geneE(g){
  const cols=[INK,TEPCOL,ORANGE];
  plot({rect:[g.ax,2069,g.right,g.hiB],ticksPx:g.ticks,cats:catsE,noX:true,yMin:g.hiMin,yMax:g.hiMax,yTicks:g.hiTicks,yLabels:g.hiLabels,mL:230,mB:40,mT:130,yTl:32,yFont:42,xAxisW:9,yAxisW:11,
   makeDs:({xmin,unit})=>[bar1(g.hiV,cols,81),
     ...g.hiErr.map(e=>errDs(1,e[0],e[1],21,g.hiMin,g.hiMax)),dotDs(g.hiDots),
     ...g.sig.map(s=>lineDs(s[0],s[1],s[2],7)),
     lineDs(xmin-17/unit,xmin+20/unit,g.hiMin,8)]});
  plot({rect:[g.ax,g.loT,g.right,g.loB],ticksPx:g.ticks,cats:catsE,yMin:0,yMax:g.loMax,yTicks:g.loTicks,yLabels:g.loLabels,mL:230,mB:190,mT:40,yTl:25,yFont:42,xFont:42,rot:45,xAxisW:9,yAxisW:11,
   makeDs:({xmin,unit})=>[bar1(g.loV,cols,81),
     ...g.loErr.map(e=>errDs(e[0],e[1],e[2],21,0,g.loMax)),dotDs(g.loDots),
     lineDs(xmin-17/unit,xmin+20/unit,g.loMax,8)]});
}
geneE({ax:247,right:622,ticks:[323,435,547],hiB:2323,hiMin:0.0085,hiMax:0.2,hiTicks:cd4HiTicks,hiLabels:cd4HiLabels,hiV:cd4Hi,hiErr:cd4HiErr,hiDots:cd4HiDots,sig:cd4Sig,
  loT:2373,loB:2629,loMax:0.005,loTicks:cd4LoTicks,loLabels:cd4LoLabels,loV:cd4Lo,loErr:cd4LoErr,loDots:cd4LoDots});
geneE({ax:915,right:1289,ticks:[990,1101,1214],hiB:2323,hiMin:0.0145,hiMax:0.8,hiTicks:cd8HiTicks,hiLabels:cd8HiLabels,hiV:cd8Hi,hiErr:cd8HiErr,hiDots:cd8HiDots,sig:cd8Sig,
  loT:2373,loB:2626,loMax:0.0006,loTicks:cd8LoTicks,loLabels:cd8LoLabels,loV:cd8Lo,loErr:cd8LoErr,loDots:cd8LoDots});
geneE({ax:1557,right:1928,ticks:[1632,1743,1853],hiB:2322,hiMin:0.0078,hiMax:0.25,hiTicks:tcfHiTicks,hiLabels:tcfHiLabels,hiV:tcfHi,hiErr:tcfHiErr,hiDots:tcfHiDots,sig:tcfSig,
  loT:2370,loB:2623,loMax:0.010,loTicks:tcfLoTicks,loLabels:tcfLoLabels,loV:tcfLo,loErr:tcfLoErr,loDots:tcfLoDots});
geneE({ax:2244,right:2612,ticks:[2317,2428,2538],hiB:2320,hiMin:0,hiMax:0.448,hiTicks:tdtHiTicks,hiLabels:tdtHiLabels,hiV:tdtHi,hiErr:tdtHiErr,hiDots:tdtHiDots,sig:tdtSig,
  loT:2368,loB:2619,loMax:0.00003,loTicks:tdtLoTicks,loLabels:tdtLoLabels,loV:tdtLo,loErr:tdtLoErr,loDots:tdtLoDots});

// ===== arrows =====
const NS='http://www.w3.org/2000/svg';
const svg=document.createElementNS(NS,'svg');svg.setAttribute('width',3568);svg.setAttribute('height',2830);page.appendChild(svg);
const el=(n,a)=>{const e=document.createElementNS(NS,n);for(const k in a)e.setAttribute(k,a[k]);svg.appendChild(e);};
const GREY='#B2B2B2';
[[[518,520,518,335,645,335],708,335],[[518,1047,518,863,645,863],708,863],[[955,469,1295,469],1359,469],[[955,955,1295,955],1359,955],[[2777,335,2942,335],3005,335],[[2664,860,2942,860],3005,860]].forEach(([p,tip,y])=>{
  el('polyline',{points:p.join(' '),fill:'none',stroke:GREY,'stroke-width':8});
  el('polygon',{points:`${tip-68},${y-28} ${tip},${y} ${tip-68},${y+28} ${tip-52},${y}`,fill:GREY});});
[[725,968,214],[1388,968,214],[2321,868,214],[2873,968,214]].forEach(([x,b,t])=>{
  el('line',{x1:x,y1:b,x2:x,y2:t+40,stroke:'#111','stroke-width':8});
  el('polygon',{points:`${x},${t} ${x+28},${t+68} ${x},${t+52} ${x-28},${t+68}`,fill:'#111'});});

// ===== text =====
const AX=69,PCT=47,SIG=46,LAB=35;
txt('A',48,92,66);txt('B',49,1244,66);txt('C',2240,90,66);txt('D',2240,1244,66);txt('E',50,1956,66);
txt('1° Thymus',192,107,AX,{anchor:'left'});txt('1° Thymus',2360,111,AX,{anchor:'left'});
txt('sTO',192,646,AX,{anchor:'left',color:'#EE6A2D'});txt('sTO',2358,646,AX,{anchor:'left',color:'#EE6A2D'});
txt('CD45',406,1160,AX);txt('CD4',972,1160,AX);txt('CD7',1639,1160,AX);txt('CD3',2562,1160,AX);txt('CD4',3118,1160,AX);
txt('CD8',725,1048,AX,{rot:-90});txt('CD5',1384,1048,AX,{rot:-90});txt('TCRα/β',2314,994,AX,{rot:-90});txt('CD8',2865,1048,AX,{rot:-90});
[['88.5%',560,705],['24.7%',855,704],['21.9%',1132,705],['44.1%',855,1088],['11.5%',1128,1088],['70.83%',1728,721],['5.4%',1536,1067],['15.2%',1742,1067],
 ['26.7%',2716,170],['64.0%',2716,711],['28.3%',2993,170],['7.8%',3286,170],['44.0%',3273,342],['35.4%',2999,718],['15.3%',3273,718],['8.2%',3286,939]].forEach(a=>txt(a[0],a[1],a[2],PCT));
txt('*',436,1210,SIG,{weight:'normal'});txt('0.024',438,1238,SIG);
txt('****',2606,1312,SIG,{weight:'normal'});txt('&lt;0.0001',2606,1341,SIG);
txt('CD5<sup>+</sup>/CD7<sup>+</sup>',1125,1536,LAB,{anchor:'left'});txt('Pro-T',1125,1565,LAB,{anchor:'left'});txt('CD5<sup>-</sup> Pro-T',1125,1692,LAB,{anchor:'left'});txt('ETP',1125,1734,LAB,{anchor:'left'});
txt('DP',1835,1359,LAB,{anchor:'left'});txt('CD8 SP',1835,1457,LAB,{anchor:'left'});txt('CD4 SP',1835,1540,LAB,{anchor:'left'});txt('DN',1835,1659,LAB,{anchor:'left'});
txt('DP',3370,1487,LAB,{anchor:'left'});txt('CD8 SP',3368,1619,LAB,{anchor:'left'});txt('CD4 SP',3367,1733,LAB,{anchor:'left'});
[['CD4',438],['CD8a',1104],['TCF-1',1746],['TdT',2432]].forEach(a=>txt(a[0],a[1],1978,52,{italic:true}));
[['**',392,2012],['0.001',391,2040],['***',404,2118],['0.0008',404,2145],['**',1047,2047],['0.005',1047,2075],['**',1043,2125],['0.004',1045,2153],
 ['***',1722,2035],['&lt;0.0005',1723,2063],['*',2371,2092],['0.044',2372,2118],['*',2368,2170],['0.039',2370,2196]].forEach(a=>txt(a[0],a[1],a[2],SIG,a[0][0]=='*'?{weight:'normal'}:{}));
</script></body></html>
